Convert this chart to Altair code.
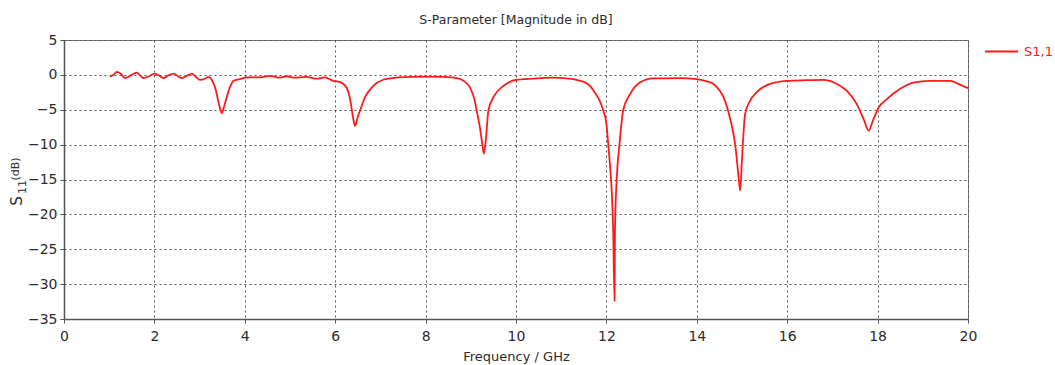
import altair as alt
import pandas as pd

# S11 magnitude sweep (GHz, dB)
freq_ghz = [
    1.02, 1.10, 1.17, 1.25, 1.35, 1.46, 1.61, 1.75, 1.88, 2.01,
    2.10, 2.20, 2.30, 2.42, 2.52, 2.60, 2.70, 2.83, 2.92, 3.01,
    3.12, 3.19, 3.30, 3.36, 3.41, 3.46, 3.49, 3.53, 3.60, 3.67,
    3.75, 3.89, 4.04, 4.34, 4.56, 4.78, 4.93, 5.07, 5.37, 5.59,
    5.77, 5.96, 6.10, 6.25, 6.33, 6.40, 6.44, 6.50, 6.55, 6.66,
    6.84, 7.06, 7.36, 7.70, 8.02, 8.40, 8.69, 8.85, 8.98, 9.08,
    9.13, 9.20, 9.26, 9.29, 9.33, 9.39, 9.50, 9.72, 10.02, 10.53,
    10.83, 11.27, 11.42, 11.50, 11.64, 11.75, 11.85, 11.93, 12.00, 12.04,
    12.08, 12.12, 12.15, 12.18, 12.19, 12.23, 12.29, 12.37, 12.52, 12.74,
    13.04, 13.63, 14.00, 14.20, 14.37, 14.50, 14.59, 14.73, 14.85, 14.93,
    14.96, 15.00, 15.07, 15.18, 15.32, 15.62, 15.99, 16.43, 16.80, 17.10,
    17.32, 17.54, 17.70, 17.80, 17.90, 18.02, 18.20, 18.50, 18.79, 19.16,
    19.60, 19.82, 20.00,
]
s11_db = [
    -0.28, 0.05, 0.43, 0.20, -0.45, -0.14, 0.33, -0.45, -0.20, 0.19,
    -0.10, -0.45, -0.10, 0.19, -0.20, -0.48, -0.20, 0.19, -0.30, -0.71,
    -0.55, -0.29, -1.10, -2.20, -3.70, -5.00, -5.50, -4.80, -3.20, -1.80,
    -0.86, -0.62, -0.35, -0.35, -0.15, -0.40, -0.20, -0.40, -0.30, -0.55,
    -0.35, -0.86, -1.00, -1.80, -3.50, -6.30, -7.30, -6.00, -5.10, -3.20,
    -1.60, -0.70, -0.38, -0.28, -0.24, -0.30, -0.48, -0.90, -1.80, -3.50,
    -5.10, -7.50, -10.20, -11.30, -9.50, -5.10, -3.20, -1.60, -0.70, -0.48,
    -0.38, -0.62, -0.86, -1.00, -1.60, -2.60, -3.70, -5.10, -7.00, -9.90,
    -13.00, -17.00, -22.30, -32.40, -22.00, -14.70, -9.90, -5.10, -2.80, -1.10,
    -0.50, -0.48, -0.62, -0.90, -1.30, -2.20, -3.20, -6.10, -10.00, -15.00,
    -16.60, -12.00, -5.60, -3.70, -2.50, -1.30, -0.86, -0.76, -0.71, -1.30,
    -2.30, -4.20, -6.50, -8.00, -6.50, -4.70, -3.50, -2.00, -1.10, -0.86,
    -0.86, -1.40, -1.90,
]
series_name = "S1,1"
x_ticks = list(range(0, 21, 2))
y_ticks = list(range(-35, 6, 5))

FONT = "DejaVu Sans"
RED = "#ff1a1a"
INK = "#2b2b2b"
GRID = "#555555"

df = pd.DataFrame({"freq": freq_ghz, "s11": s11_db, "series": series_name})

axis_style = dict(
    labelFont=FONT, labelFontSize=14, labelColor=INK, labelFlush=False,
    titleFont=FONT, titleFontSize=13, titleColor=INK, titleFontWeight="normal",
    domainColor="#555555", domainWidth=1.5,
    tickColor="#555555", tickSize=4,
    grid=True, gridColor=GRID, gridDash=[2, 3], gridWidth=1, gridOpacity=1,
    format="d",
)

curve = alt.Chart(df).mark_line(
    color=RED, strokeWidth=1.8, interpolate="monotone"
).encode(
    x=alt.X(
        "freq:Q",
        scale=alt.Scale(domain=[0, 20], nice=False, zero=False),
        axis=alt.Axis(values=x_ticks, title="Frequency / GHz",
                      labelPadding=6, titlePadding=7, **axis_style),
    ),
    y=alt.Y(
        "s11:Q",
        scale=alt.Scale(domain=[-35, 5], nice=False, zero=False),
        axis=alt.Axis(values=y_ticks, title=None, labelPadding=3, **axis_style),
    ),
)

one = pd.DataFrame({"series": [series_name]})

# legend entry to the right of the plot
legend_line = alt.Chart(one).mark_rule(color=RED, strokeWidth=2).encode(
    x=alt.value(921), x2=alt.value(954), y=alt.value(11.5)
)
legend_text = alt.Chart(one).mark_text(
    color=RED, font=FONT, fontSize=13, align="left", baseline="middle"
).encode(x=alt.value(960), y=alt.value(11.5), text="series:N")

# rotated y title: S with subscript 11, then (dB)
y_s = alt.Chart(pd.DataFrame({"t": ["S"]})).mark_text(
    font=FONT, fontSize=15, color=INK, angle=270, align="center", baseline="middle"
).encode(x=alt.value(-47), y=alt.value(161), text="t:N")
y_sub = alt.Chart(pd.DataFrame({"t": ["11"]})).mark_text(
    font=FONT, fontSize=11, color=INK, angle=270, align="center", baseline="middle"
).encode(x=alt.value(-41), y=alt.value(147), text="t:N")
y_unit = alt.Chart(pd.DataFrame({"t": ["(dB)"]})).mark_text(
    font=FONT, fontSize=11, color=INK, angle=270, align="center", baseline="middle"
).encode(x=alt.value(-48), y=alt.value(129), text="t:N")

chart = alt.layer(curve, legend_line, legend_text, y_s, y_sub, y_unit).properties(
    width=904,
    height=279,
    autosize=alt.AutoSizeParams(type="none"),
    padding={"left": 64, "top": 40, "right": 87, "bottom": 46},
    background="white",
    title=alt.Title(
        "S-Parameter [Magnitude in dB]",
        font=FONT, fontSize=12.5, fontWeight="normal", color=INK,
        anchor="middle", offset=7,
    ),
).configure_view(
    stroke="#777777", strokeWidth=1
)

chart.save("out.html", embed_options={"renderer": "svg", "actions": False})
